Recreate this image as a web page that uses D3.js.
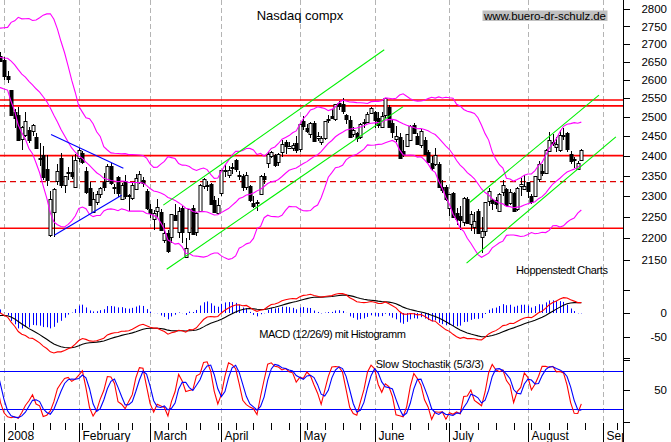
<!DOCTYPE html>
<html><head><meta charset="utf-8">
<script src="https://cdn.jsdelivr.net/npm/d3@7"></script>
<style>
body{margin:0;background:#fff}
svg{display:block}
text{font-family:"Liberation Sans",Arial,sans-serif;fill:#000}
</style>
</head><body>
<svg id="c" width="671" height="442"></svg>
<script>
// ---- data ----
const warmupClose = [2794.83,2810.38,2795.18,2825.18,2748.76,2696.00,2627.94,2584.13,2673.65,2644.29,2618.51,2637.24,2593.38,2596.81,2562.15,2596.60,2540.99,2580.80,2662.91,2668.13,2660.96];

const dates = [
"2007-12-03","2007-12-04","2007-12-05","2007-12-06","2007-12-07","2007-12-10","2007-12-11","2007-12-12","2007-12-13","2007-12-14","2007-12-17","2007-12-18","2007-12-19","2007-12-20","2007-12-21","2007-12-24","2007-12-26","2007-12-27","2007-12-28","2007-12-31",
"2008-01-02","2008-01-03","2008-01-04","2008-01-07","2008-01-08","2008-01-09","2008-01-10","2008-01-11","2008-01-14","2008-01-15","2008-01-16","2008-01-17","2008-01-18","2008-01-22","2008-01-23","2008-01-24","2008-01-25","2008-01-28","2008-01-29","2008-01-30","2008-01-31",
"2008-02-01","2008-02-04","2008-02-05","2008-02-06","2008-02-07","2008-02-08","2008-02-11","2008-02-12","2008-02-13","2008-02-14","2008-02-15","2008-02-19","2008-02-20","2008-02-21","2008-02-22","2008-02-25","2008-02-26","2008-02-27","2008-02-28","2008-02-29",
"2008-03-03","2008-03-04","2008-03-05","2008-03-06","2008-03-07","2008-03-10","2008-03-11","2008-03-12","2008-03-13","2008-03-14","2008-03-17","2008-03-18","2008-03-19","2008-03-20","2008-03-24","2008-03-25","2008-03-26","2008-03-27","2008-03-28","2008-03-31",
"2008-04-01","2008-04-02","2008-04-03","2008-04-04","2008-04-07","2008-04-08","2008-04-09","2008-04-10","2008-04-11","2008-04-14","2008-04-15","2008-04-16","2008-04-17","2008-04-18","2008-04-21","2008-04-22","2008-04-23","2008-04-24","2008-04-25","2008-04-28","2008-04-29","2008-04-30",
"2008-05-01","2008-05-02","2008-05-05","2008-05-06","2008-05-07","2008-05-08","2008-05-09","2008-05-12","2008-05-13","2008-05-14","2008-05-15","2008-05-16","2008-05-19","2008-05-20","2008-05-21","2008-05-22","2008-05-23","2008-05-27","2008-05-28","2008-05-29","2008-05-30",
"2008-06-02","2008-06-03","2008-06-04","2008-06-05","2008-06-06","2008-06-09","2008-06-10","2008-06-11","2008-06-12","2008-06-13","2008-06-16","2008-06-17","2008-06-18","2008-06-19","2008-06-20","2008-06-23","2008-06-24","2008-06-25","2008-06-26","2008-06-27","2008-06-30",
"2008-07-01","2008-07-02","2008-07-03","2008-07-07","2008-07-08","2008-07-09","2008-07-10","2008-07-11","2008-07-14","2008-07-15","2008-07-16","2008-07-17","2008-07-18","2008-07-21","2008-07-22","2008-07-23","2008-07-24","2008-07-25","2008-07-28","2008-07-29","2008-07-30","2008-07-31",
"2008-08-01","2008-08-04","2008-08-05","2008-08-06","2008-08-07","2008-08-08","2008-08-11","2008-08-12","2008-08-13","2008-08-14","2008-08-15","2008-08-18","2008-08-19","2008-08-20","2008-08-21","2008-08-22"];

const open = [
2656,2622,2640,2664,2712,2710,2720,2700,2650,2656,2628,2590,2594,2614,2661,2697,2705,2716,2690,2665,
2654,2611,2571,2514,2506,2443,2453,2465,2463,2447,2393,2402,2367,2207,2262,2335,2393,2327,2358,2359,2324,
2394,2406,2362,2320,2262,2285,2305,2333,2337,2374,2320,2346,2294,2337,2303,2297,2318,2333,2340,2312,
2268,2245,2264,2262,2196,2211,2201,2255,2213,2270,2156,2215,2271,2213,2264,2324,2326,2330,2290,2260,
2306,2361,2351,2369,2388,2352,2350,2323,2325,2284,2283,2306,2350,2380,2399,2401,2386,2409,2434,2420,2418,2431,
2416,2490,2472,2454,2484,2445,2436,2444,2492,2502,2495,2537,2534,2504,2493,2453,2457,2447,2483,2486,2510,
2512,2498,2474,2504,2527,2484,2441,2447,2411,2424,2438,2478,2449,2425,2441,2410,2382,2378,2379,2323,2322,
2271,2308,2260,2252,2238,2292,2235,2226,2264,2201,2216,2288,2291,2290,2264,2309,2318,2283,2308,2269,2325,2318,
2333,2300,2300,2341,2361,2357,2412,2434,2422,2415,2453,2458,2403,2391,2366,2389];

const high = [
2662,2635,2670,2710,2718,2724,2740,2715,2672,2662,2632,2605,2615,2641,2692,2714,2726,2722,2695,2676,
2662,2624,2571,2521,2527,2475,2514,2474,2480,2457,2431,2425,2401,2311,2319,2378,2406,2350,2371,2400,2404,
2419,2412,2372,2333,2310,2311,2322,2357,2378,2381,2330,2350,2332,2351,2305,2332,2353,2361,2347,2318,
2280,2266,2292,2268,2235,2220,2256,2281,2273,2277,2200,2268,2279,2261,2329,2343,2336,2331,2301,2294,
2363,2376,2373,2382,2392,2362,2355,2358,2326,2300,2290,2352,2356,2408,2411,2403,2406,2440,2439,2434,2433,2450,
2481,2501,2480,2486,2489,2461,2449,2490,2504,2522,2534,2543,2551,2507,2502,2473,2460,2483,2494,2514,2525,
2515,2514,2514,2550,2531,2494,2477,2458,2441,2455,2478,2485,2458,2467,2448,2414,2398,2420,2384,2338,2326,
2306,2310,2272,2277,2297,2298,2264,2262,2268,2250,2286,2319,2292,2297,2307,2338,2320,2316,2309,2322,2343,2351,
2334,2305,2350,2386,2380,2417,2460,2454,2447,2465,2472,2460,2412,2397,2386,2418];

const low = [
2630,2612,2636,2660,2696,2702,2648,2643,2634,2632,2572,2560,2580,2608,2655,2695,2700,2674,2655,2648,
2598,2592,2502,2471,2440,2414,2447,2432,2449,2416,2374,2338,2325,2203,2202,2327,2319,2308,2340,2342,2323,
2385,2380,2306,2277,2258,2279,2294,2311,2333,2328,2306,2298,2290,2292,2265,2291,2314,2330,2323,2266,
2247,2218,2248,2218,2190,2166,2190,2240,2200,2190,2155,2196,2208,2206,2263,2316,2311,2279,2259,2256,
2300,2346,2343,2355,2360,2340,2311,2314,2285,2270,2265,2305,2330,2370,2393,2371,2375,2396,2404,2418,2412,2406,
2410,2465,2458,2446,2437,2438,2428,2440,2484,2494,2490,2518,2507,2480,2445,2448,2434,2442,2470,2483,2507,
2472,2470,2471,2498,2474,2445,2434,2392,2397,2422,2436,2455,2426,2420,2405,2382,2362,2375,2320,2307,2289,
2252,2251,2230,2220,2229,2234,2217,2209,2210,2167,2206,2276,2266,2268,2262,2301,2280,2278,2262,2265,2301,2316,
2294,2281,2298,2334,2350,2354,2410,2425,2408,2410,2440,2410,2378,2370,2366,2387];

const close = [
2637.13,2619.83,2666.36,2709.03,2706.16,2718.95,2652.35,2671.14,2668.13,2635.74,2574.46,2596.03,2601.01,2640.86,2691.99,2713.50,2724.41,2676.79,2674.46,2652.28,
2609.63,2602.68,2504.65,2499.46,2440.51,2474.55,2488.52,2439.94,2478.30,2417.59,2394.59,2346.90,2340.02,2292.27,2316.41,2360.92,2326.20,2349.91,2358.06,2349.00,2389.86,
2413.36,2382.85,2309.57,2278.75,2293.03,2304.85,2320.06,2320.04,2373.93,2332.54,2321.80,2306.20,2327.10,2299.78,2303.35,2327.48,2344.99,2353.78,2331.57,2271.48,
2258.60,2260.28,2272.81,2220.50,2212.49,2169.34,2255.76,2243.87,2263.61,2212.49,2177.01,2268.26,2209.96,2258.11,2326.75,2341.05,2324.36,2280.83,2261.18,2279.10,
2362.75,2363.30,2363.34,2370.98,2364.83,2348.76,2322.12,2351.70,2290.24,2275.82,2286.04,2350.11,2341.83,2402.97,2408.04,2376.94,2405.21,2428.92,2422.93,2424.40,2426.11,2412.80,
2480.71,2476.76,2464.09,2483.31,2438.49,2451.24,2445.52,2488.49,2495.12,2496.70,2533.73,2528.85,2516.09,2492.26,2448.27,2464.58,2444.67,2481.24,2486.70,2508.32,2522.66,
2491.53,2480.48,2503.14,2549.94,2474.56,2459.46,2448.94,2394.01,2404.35,2454.50,2474.78,2457.73,2429.71,2462.07,2406.09,2385.74,2368.28,2401.26,2321.37,2315.63,2292.98,
2304.97,2251.46,2245.38,2243.32,2294.44,2234.89,2257.85,2239.08,2212.87,2215.71,2284.85,2312.30,2282.78,2279.53,2303.96,2325.88,2280.11,2310.53,2264.22,2319.62,2329.72,2325.55,
2310.96,2285.56,2349.83,2378.37,2355.73,2414.10,2439.95,2430.61,2428.62,2453.67,2452.52,2416.98,2384.36,2389.08,2380.38,2414.71];

// future trading days, axis only
const axisOnlyDates = ["2008-08-25","2008-08-26","2008-08-27","2008-08-28","2008-08-29","2008-09-02","2008-09-03","2008-09-04","2008-09-05","2008-09-08","2008-09-09","2008-09-10","2008-09-11","2008-09-12"];

const monthLabels = ["2008","February","March","April","May","June","July","August","Sep"];
const priceTicks = [2150,2200,2250,2300,2350,2400,2450,2500,2550,2600,2650,2700,2750,2800];
const macdTicks = [50,0,-50,-100];
const macdLabels = [0,-50];
const stochTicks = [100,50,0];
const stochLabels = [50];
const stochBands = [80,20];
const solidLevels = [2545,2529,2400,2223];
const dashedLevels = [2335];
// trend lines: trading-day number from 2008-01-02, price
const blueLines = [[13.2,2454,33.5,2368],[14.1,2207,33.0,2302]];
const greenLines = [[44.7,2278,106.7,2683],[45.65,2129,112.0,2527],[130.75,2285,166.95,2558],[129.8,2143,171.7,2448]];

// ---- scales ----
const svg = d3.select("#c");
const allDates = dates.concat(axisOnlyDates);
const iJan = allDates.indexOf("2008-01-02");
const iSep = allDates.indexOf("2008-09-02");
const x = d3.scaleLinear().domain([iJan, iSep]).range([4, 602.7]);
const yP = d3.scaleLog().domain([2150, 2800]).range([260, 9.3]);
const yM = d3.scaleLinear().domain([-50, 50]).range([336.7, 289.9]);
const yS = d3.scaleLinear().domain([20, 80]).range([409, 371]);
const AX = 623, BOT = 423;

const defs = svg.append("defs");
defs.append("clipPath").attr("id","cm").append("rect").attr("x",0).attr("y",0).attr("width",AX).attr("height",282);
defs.append("clipPath").attr("id","cmacd").append("rect").attr("x",0).attr("y",282).attr("width",AX).attr("height",73);
defs.append("clipPath").attr("id","cst").append("rect").attr("x",0).attr("y",355).attr("width",AX).attr("height",BOT-355);

// ---- indicators ----
const allClose = warmupClose.concat(close);
const off = warmupClose.length;
function ema(arr, n){ const a=2/(n+1); const out=[]; arr.forEach((v,i)=>{ out.push(i===0?v:a*v+(1-a)*out[i-1]); }); return out; }
const e12 = ema(allClose,12), e26 = ema(allClose,26);
const macdAll = e12.map((v,i)=>v-e26[i]);
const sigAll = ema(macdAll,9);
const macd = macdAll.slice(off), sig = sigAll.slice(off);
const bb = allClose.map((v,i)=>{ if(i<19) return null; const w=allClose.slice(i-19,i+1); const m=d3.mean(w); const sd=Math.sqrt(d3.mean(w,d=>(d-m)*(d-m))); return {m, u:m+2*sd, l:m-2*sd}; }).slice(off);
const fastK = close.map((c,i)=>{ if(i<4) return null; const hh=d3.max(high.slice(i-4,i+1)), ll=d3.min(low.slice(i-4,i+1)); return 100*(c-ll)/(hh-ll); });
function sma3(arr){ return arr.map((v,i)=> (i<2||arr[i]==null||arr[i-1]==null||arr[i-2]==null)?null:(arr[i]+arr[i-1]+arr[i-2])/3); }
const slowK = sma3(fastK), slowD = sma3(slowK);

// ---- grid: month dashed lines ----
const monthStart = [];
allDates.forEach((d,i)=>{ if(i>=iJan && (i===iJan || d.slice(5,7)!==allDates[i-1].slice(5,7))) monthStart.push(i); });
const weekStart = [];
allDates.forEach((d,i)=>{ if(i<=iJan) return; const a=new Date(allDates[i-1]+"T12:00:00Z"), b=new Date(d+"T12:00:00Z"); if(b.getUTCDay()<a.getUTCDay() || (b-a)>4*864e5) weekStart.push(i); });

const grid = svg.append("g");
monthStart.forEach(i=>{
  const xx = Math.round(x(i))+0.5;
  grid.append("line").attr("x1",xx).attr("x2",xx).attr("y1",0).attr("y2",BOT)
    .attr("stroke","#b4b4b4").attr("stroke-dasharray","5,3");
});

// horizontal levels
const lv = svg.append("g");
solidLevels.forEach(p=>{ lv.append("line").attr("x1",0).attr("x2",AX).attr("y1",yP(p)).attr("y2",yP(p)).attr("stroke","#ff0000").attr("stroke-width",1.6); });
dashedLevels.forEach(p=>{ lv.append("line").attr("x1",0).attr("x2",AX).attr("y1",yP(p)).attr("y2",yP(p)).attr("stroke","#e00000").attr("stroke-width",1.4).attr("stroke-dasharray","6,4"); });

// ---- candles ----
const cg = svg.append("g").attr("clip-path","url(#cm)");
close.forEach((c,i)=>{
  const o=open[i], cx=x(i), xr=Math.round(cx);
  cg.append("line").attr("x1",xr+0.5).attr("x2",xr+0.5).attr("y1",yP(high[i])).attr("y2",yP(low[i])).attr("stroke","#000").attr("shape-rendering","crispEdges");
  const top=yP(Math.max(o,c)), bot=yP(Math.min(o,c));
  cg.append("rect").attr("x",xr-1).attr("y",Math.round(top)+0.5).attr("width",3).attr("height",Math.max(1,Math.round(bot-top)))
    .attr("fill", c>=o?"#fff":"#000").attr("stroke","#000").attr("stroke-width",1);
});

// ---- bollinger ----
const bg = svg.append("g").attr("clip-path","url(#cm)");
["u","m","l"].forEach(k=>{
  bg.append("path").attr("fill","none").attr("stroke","#ff00ff").attr("stroke-width",1.1)
    .attr("d", d3.line().defined(d=>d!=null).x((d,i)=>x(i)).y(d=>yP(d[k]))(bb));
});

// ---- trend lines ----
const tg = svg.append("g").attr("clip-path","url(#cm)");
blueLines.forEach(l=>{ tg.append("line").attr("x1",x(iJan+l[0])).attr("y1",yP(l[1])).attr("x2",x(iJan+l[2])).attr("y2",yP(l[3])).attr("stroke","#0000ff").attr("stroke-width",1.1); });
greenLines.forEach(l=>{ tg.append("line").attr("x1",x(iJan+l[0])).attr("y1",yP(l[1])).attr("x2",x(iJan+l[2])).attr("y2",yP(l[3])).attr("stroke","#00f000").attr("stroke-width",1.1); });

// ---- MACD ----
const mg = svg.append("g").attr("clip-path","url(#cmacd)");
macd.forEach((m,i)=>{
  const h=(m-sig[i])*1.5;
  const xx=Math.round(x(i))+0.5;
  mg.append("line").attr("x1",xx).attr("x2",xx).attr("y1",Math.round(yM(0))).attr("y2",yM(h)).attr("stroke","#0000ff").attr("stroke-width",1);
});
mg.append("path").attr("fill","none").attr("stroke","#000").attr("stroke-width",1.1).attr("d",d3.line().x((d,i)=>x(i)).y(d=>yM(d))(sig));
mg.append("path").attr("fill","none").attr("stroke","#ff0000").attr("stroke-width",1.1).attr("d",d3.line().x((d,i)=>x(i)).y(d=>yM(d))(macd));

// ---- Stochastic ----
const sg = svg.append("g").attr("clip-path","url(#cst)");
stochBands.forEach(v=>{ const yy=Math.round(yS(v))+0.5; sg.append("line").attr("x1",0).attr("x2",AX).attr("y1",yy).attr("y2",yy).attr("stroke","#0000ff").attr("stroke-width",1).attr("shape-rendering","crispEdges"); });
sg.append("path").attr("fill","none").attr("stroke","#ff0000").attr("stroke-width",1.1).attr("d",d3.line().defined(d=>d!=null).x((d,i)=>x(i)).y(d=>yS(d))(slowK));
sg.append("path").attr("fill","none").attr("stroke","#0000ff").attr("stroke-width",1.1).attr("d",d3.line().defined(d=>d!=null).x((d,i)=>x(i)).y(d=>yS(d))(slowD));

// ---- right axis ----
const ax = svg.append("g").attr("shape-rendering","crispEdges");
ax.append("line").attr("x1",AX+0.5).attr("x2",AX+0.5).attr("y1",0).attr("y2",BOT).attr("stroke","#000");
priceTicks.forEach(p=>{
  const yy=Math.round(yP(p))+0.5;
  ax.append("line").attr("x1",AX).attr("x2",AX+7).attr("y1",yy).attr("y2",yy).attr("stroke","#000");
  ax.append("text").attr("x",667).attr("y",yP(p)).attr("dy","0.36em").attr("text-anchor","end").attr("font-size",11.5).text(p);
});
macdTicks.forEach(v=>{ const yy=Math.round(yM(v))+0.5; ax.append("line").attr("x1",AX).attr("x2",AX+7).attr("y1",yy).attr("y2",yy).attr("stroke","#000"); });
macdLabels.forEach(v=>{ ax.append("text").attr("x",667).attr("y",yM(v)).attr("dy","0.36em").attr("text-anchor","end").attr("font-size",11.5).text(v); });
stochTicks.forEach(v=>{ const yy=Math.round(yS(v))+0.5; ax.append("line").attr("x1",AX).attr("x2",AX+7).attr("y1",yy).attr("y2",yy).attr("stroke","#000"); });
stochLabels.forEach(v=>{ ax.append("text").attr("x",667).attr("y",yS(v)).attr("dy","0.36em").attr("text-anchor","end").attr("font-size",11.5).text(v); });

// ---- bottom axis ----
const bx = svg.append("g").attr("shape-rendering","crispEdges");
weekStart.forEach(i=>{ const xx=Math.round(x(i))+0.5; if(xx>AX) return; bx.append("line").attr("x1",xx).attr("x2",xx).attr("y1",BOT).attr("y2",BOT+7).attr("stroke","#000"); });
monthStart.forEach((i,k)=>{
  const xx=Math.round(x(i))+0.5;
  bx.append("line").attr("x1",xx).attr("x2",xx).attr("y1",BOT).attr("y2",442).attr("stroke","#000");
  bx.append("text").attr("x",xx+3).attr("y",439.5).attr("font-size",12).text(monthLabels[k]);
});
// cover labels past the axis
svg.append("rect").attr("x",AX+1).attr("y",BOT).attr("width",60).attr("height",20).attr("fill","#fff");
bx.append("line").attr("x1",AX+0.5).attr("x2",AX+0.5).attr("y1",BOT).attr("y2",442).attr("stroke","#000");

// ---- texts ----
svg.append("text").attr("x",300).attr("y",20).attr("text-anchor","middle").attr("font-size",13).text("Nasdaq compx");
svg.append("rect").attr("x",482.5).attr("y",10.5).attr("width",125).attr("height",10.5).attr("fill","#c0c0c0");
svg.append("text").attr("x",545).attr("y",19.8).attr("text-anchor","middle").attr("font-size",11.5).attr("textLength",122).text("www.buero-dr-schulz.de");
svg.append("text").attr("x",516).attr("y",274).attr("font-size",11).attr("textLength",92).text("Hoppenstedt Charts");
svg.append("text").attr("x",259.3).attr("y",337.5).attr("font-size",11).attr("textLength",146.5).text("MACD (12/26/9) mit Histogramm");
svg.append("text").attr("x",375.7).attr("y",368).attr("font-size",11).attr("textLength",108.3).text("Slow Stochastik (5/3/3)");
</script>
</body></html>
